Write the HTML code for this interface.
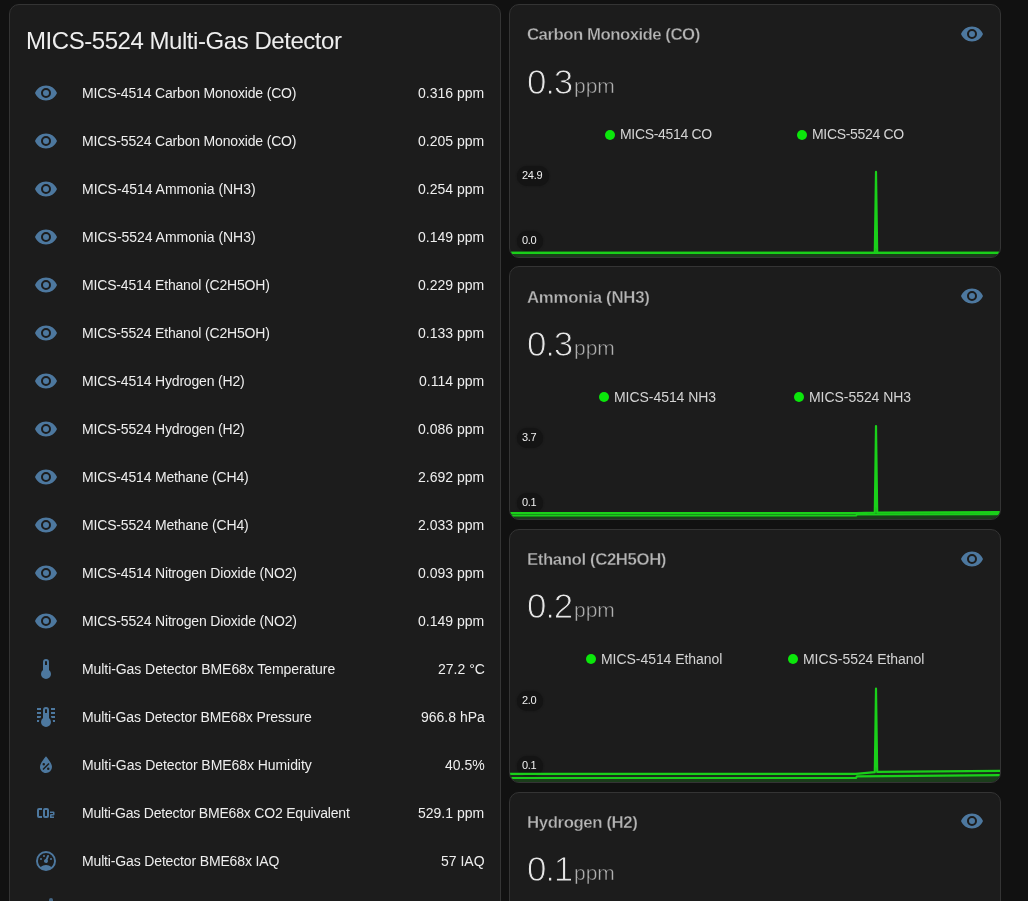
<!DOCTYPE html><html><head><meta charset='utf-8'><style>
*{box-sizing:border-box;margin:0;padding:0}
html,body{width:1028px;height:901px;overflow:hidden;background:#111111;font-family:"Liberation Sans",sans-serif;color:#eeeeee}
.card{position:absolute;background:#1c1c1c;border:1px solid #343434;border-radius:10px;overflow:hidden}
.t{position:absolute;white-space:nowrap;line-height:1;will-change:transform;-webkit-text-stroke:0px #1c1c1c}
svg.i{position:absolute;width:24px;height:24px;fill:#4d789f}
.dot{position:absolute;width:10px;height:10px;border-radius:50%;background:#0be60b}
.pill{position:absolute;height:20px;border-radius:10px;background:#141414;box-shadow:0 0 2px #141414}
</style></head><body>
<div class='card' style='left:9px;top:4px;width:492px;height:1000px'>
<div class='t' style='left:16.00px;top:23.68px;font-size:24px;letter-spacing:-0.45px;-webkit-text-stroke:0px #1c1c1c'>MICS-5524 Multi-Gas Detector</div>
<svg class='i' viewBox='0 0 24 24' style='left:24px;top:75.5px'><path d='M12,9A3,3 0 0,0 9,12A3,3 0 0,0 12,15A3,3 0 0,0 15,12A3,3 0 0,0 12,9M12,17A5,5 0 0,1 7,12A5,5 0 0,1 12,7A5,5 0 0,1 17,12A5,5 0 0,1 12,17M12,4.5C7,4.5 2.73,7.61 1,12C2.73,16.39 7,19.5 12,19.5C17,19.5 21.27,16.39 23,12C21.27,7.61 17,4.5 12,4.5Z'/></svg>
<div class='t' style='left:72.00px;top:80.95px;font-size:14px;letter-spacing:-0.17px'>MICS-4514 Carbon Monoxide (CO)</div>
<div class='t' style='right:15.50px;top:80.95px;font-size:14px;'>0.316 ppm</div>
<svg class='i' viewBox='0 0 24 24' style='left:24px;top:123.5px'><path d='M12,9A3,3 0 0,0 9,12A3,3 0 0,0 12,15A3,3 0 0,0 15,12A3,3 0 0,0 12,9M12,17A5,5 0 0,1 7,12A5,5 0 0,1 12,7A5,5 0 0,1 17,12A5,5 0 0,1 12,17M12,4.5C7,4.5 2.73,7.61 1,12C2.73,16.39 7,19.5 12,19.5C17,19.5 21.27,16.39 23,12C21.27,7.61 17,4.5 12,4.5Z'/></svg>
<div class='t' style='left:72.00px;top:128.95px;font-size:14px;letter-spacing:-0.17px'>MICS-5524 Carbon Monoxide (CO)</div>
<div class='t' style='right:15.50px;top:128.95px;font-size:14px;'>0.205 ppm</div>
<svg class='i' viewBox='0 0 24 24' style='left:24px;top:171.5px'><path d='M12,9A3,3 0 0,0 9,12A3,3 0 0,0 12,15A3,3 0 0,0 15,12A3,3 0 0,0 12,9M12,17A5,5 0 0,1 7,12A5,5 0 0,1 12,7A5,5 0 0,1 17,12A5,5 0 0,1 12,17M12,4.5C7,4.5 2.73,7.61 1,12C2.73,16.39 7,19.5 12,19.5C17,19.5 21.27,16.39 23,12C21.27,7.61 17,4.5 12,4.5Z'/></svg>
<div class='t' style='left:72.00px;top:176.95px;font-size:14px;letter-spacing:-0.03px'>MICS-4514 Ammonia (NH3)</div>
<div class='t' style='right:15.50px;top:176.95px;font-size:14px;'>0.254 ppm</div>
<svg class='i' viewBox='0 0 24 24' style='left:24px;top:219.5px'><path d='M12,9A3,3 0 0,0 9,12A3,3 0 0,0 12,15A3,3 0 0,0 15,12A3,3 0 0,0 12,9M12,17A5,5 0 0,1 7,12A5,5 0 0,1 12,7A5,5 0 0,1 17,12A5,5 0 0,1 12,17M12,4.5C7,4.5 2.73,7.61 1,12C2.73,16.39 7,19.5 12,19.5C17,19.5 21.27,16.39 23,12C21.27,7.61 17,4.5 12,4.5Z'/></svg>
<div class='t' style='left:72.00px;top:224.95px;font-size:14px;letter-spacing:-0.03px'>MICS-5524 Ammonia (NH3)</div>
<div class='t' style='right:15.50px;top:224.95px;font-size:14px;'>0.149 ppm</div>
<svg class='i' viewBox='0 0 24 24' style='left:24px;top:267.5px'><path d='M12,9A3,3 0 0,0 9,12A3,3 0 0,0 12,15A3,3 0 0,0 15,12A3,3 0 0,0 12,9M12,17A5,5 0 0,1 7,12A5,5 0 0,1 12,7A5,5 0 0,1 17,12A5,5 0 0,1 12,17M12,4.5C7,4.5 2.73,7.61 1,12C2.73,16.39 7,19.5 12,19.5C17,19.5 21.27,16.39 23,12C21.27,7.61 17,4.5 12,4.5Z'/></svg>
<div class='t' style='left:72.00px;top:272.95px;font-size:14px;letter-spacing:-0.17px'>MICS-4514 Ethanol (C2H5OH)</div>
<div class='t' style='right:15.50px;top:272.95px;font-size:14px;'>0.229 ppm</div>
<svg class='i' viewBox='0 0 24 24' style='left:24px;top:315.5px'><path d='M12,9A3,3 0 0,0 9,12A3,3 0 0,0 12,15A3,3 0 0,0 15,12A3,3 0 0,0 12,9M12,17A5,5 0 0,1 7,12A5,5 0 0,1 12,7A5,5 0 0,1 17,12A5,5 0 0,1 12,17M12,4.5C7,4.5 2.73,7.61 1,12C2.73,16.39 7,19.5 12,19.5C17,19.5 21.27,16.39 23,12C21.27,7.61 17,4.5 12,4.5Z'/></svg>
<div class='t' style='left:72.00px;top:320.95px;font-size:14px;letter-spacing:-0.17px'>MICS-5524 Ethanol (C2H5OH)</div>
<div class='t' style='right:15.50px;top:320.95px;font-size:14px;'>0.133 ppm</div>
<svg class='i' viewBox='0 0 24 24' style='left:24px;top:363.5px'><path d='M12,9A3,3 0 0,0 9,12A3,3 0 0,0 12,15A3,3 0 0,0 15,12A3,3 0 0,0 12,9M12,17A5,5 0 0,1 7,12A5,5 0 0,1 12,7A5,5 0 0,1 17,12A5,5 0 0,1 12,17M12,4.5C7,4.5 2.73,7.61 1,12C2.73,16.39 7,19.5 12,19.5C17,19.5 21.27,16.39 23,12C21.27,7.61 17,4.5 12,4.5Z'/></svg>
<div class='t' style='left:72.00px;top:368.95px;font-size:14px;letter-spacing:-0.17px'>MICS-4514 Hydrogen (H2)</div>
<div class='t' style='right:15.50px;top:368.95px;font-size:14px;'>0.114 ppm</div>
<svg class='i' viewBox='0 0 24 24' style='left:24px;top:411.5px'><path d='M12,9A3,3 0 0,0 9,12A3,3 0 0,0 12,15A3,3 0 0,0 15,12A3,3 0 0,0 12,9M12,17A5,5 0 0,1 7,12A5,5 0 0,1 12,7A5,5 0 0,1 17,12A5,5 0 0,1 12,17M12,4.5C7,4.5 2.73,7.61 1,12C2.73,16.39 7,19.5 12,19.5C17,19.5 21.27,16.39 23,12C21.27,7.61 17,4.5 12,4.5Z'/></svg>
<div class='t' style='left:72.00px;top:416.95px;font-size:14px;letter-spacing:-0.17px'>MICS-5524 Hydrogen (H2)</div>
<div class='t' style='right:15.50px;top:416.95px;font-size:14px;'>0.086 ppm</div>
<svg class='i' viewBox='0 0 24 24' style='left:24px;top:459.5px'><path d='M12,9A3,3 0 0,0 9,12A3,3 0 0,0 12,15A3,3 0 0,0 15,12A3,3 0 0,0 12,9M12,17A5,5 0 0,1 7,12A5,5 0 0,1 12,7A5,5 0 0,1 17,12A5,5 0 0,1 12,17M12,4.5C7,4.5 2.73,7.61 1,12C2.73,16.39 7,19.5 12,19.5C17,19.5 21.27,16.39 23,12C21.27,7.61 17,4.5 12,4.5Z'/></svg>
<div class='t' style='left:72.00px;top:464.95px;font-size:14px;letter-spacing:-0.17px'>MICS-4514 Methane (CH4)</div>
<div class='t' style='right:15.50px;top:464.95px;font-size:14px;'>2.692 ppm</div>
<svg class='i' viewBox='0 0 24 24' style='left:24px;top:507.5px'><path d='M12,9A3,3 0 0,0 9,12A3,3 0 0,0 12,15A3,3 0 0,0 15,12A3,3 0 0,0 12,9M12,17A5,5 0 0,1 7,12A5,5 0 0,1 12,7A5,5 0 0,1 17,12A5,5 0 0,1 12,17M12,4.5C7,4.5 2.73,7.61 1,12C2.73,16.39 7,19.5 12,19.5C17,19.5 21.27,16.39 23,12C21.27,7.61 17,4.5 12,4.5Z'/></svg>
<div class='t' style='left:72.00px;top:512.95px;font-size:14px;letter-spacing:-0.17px'>MICS-5524 Methane (CH4)</div>
<div class='t' style='right:15.50px;top:512.95px;font-size:14px;'>2.033 ppm</div>
<svg class='i' viewBox='0 0 24 24' style='left:24px;top:555.5px'><path d='M12,9A3,3 0 0,0 9,12A3,3 0 0,0 12,15A3,3 0 0,0 15,12A3,3 0 0,0 12,9M12,17A5,5 0 0,1 7,12A5,5 0 0,1 12,7A5,5 0 0,1 17,12A5,5 0 0,1 12,17M12,4.5C7,4.5 2.73,7.61 1,12C2.73,16.39 7,19.5 12,19.5C17,19.5 21.27,16.39 23,12C21.27,7.61 17,4.5 12,4.5Z'/></svg>
<div class='t' style='left:72.00px;top:560.95px;font-size:14px;letter-spacing:-0.17px'>MICS-4514 Nitrogen Dioxide (NO2)</div>
<div class='t' style='right:15.50px;top:560.95px;font-size:14px;'>0.093 ppm</div>
<svg class='i' viewBox='0 0 24 24' style='left:24px;top:603.5px'><path d='M12,9A3,3 0 0,0 9,12A3,3 0 0,0 12,15A3,3 0 0,0 15,12A3,3 0 0,0 12,9M12,17A5,5 0 0,1 7,12A5,5 0 0,1 12,7A5,5 0 0,1 17,12A5,5 0 0,1 12,17M12,4.5C7,4.5 2.73,7.61 1,12C2.73,16.39 7,19.5 12,19.5C17,19.5 21.27,16.39 23,12C21.27,7.61 17,4.5 12,4.5Z'/></svg>
<div class='t' style='left:72.00px;top:608.95px;font-size:14px;letter-spacing:-0.17px'>MICS-5524 Nitrogen Dioxide (NO2)</div>
<div class='t' style='right:15.50px;top:608.95px;font-size:14px;'>0.149 ppm</div>
<svg class='i' viewBox='0 0 24 24' style='left:24px;top:651.5px'><path d='M15,13V5A3,3 0 0,0 12,2A3,3 0 0,0 9,5V13A5,5 0 0,0 7,17A5,5 0 0,0 12,22A5,5 0 0,0 17,17A5,5 0 0,0 15,13M12,4A1,1 0 0,1 13,5V8H11V5A1,1 0 0,1 12,4Z'/></svg>
<div class='t' style='left:72.00px;top:656.95px;font-size:14px;letter-spacing:-0.07px'>Multi-Gas Detector BME68x Temperature</div>
<div class='t' style='right:15.50px;top:656.95px;font-size:14px;'>27.2 °C</div>
<svg class='i' viewBox='0 0 24 24' style='left:24px;top:699.5px'><path d='M17,3H21V5H17V3M17,7H21V9H17V7M17,11H21V13H17.75L17,12.1V11M21,15V17H19C19,16.31 18.9,15.63 18.71,15H21M7,3V5H3V3H7M7,7V9H3V7H7M7,11V12.1L6.25,13H3V11H7M3,15H5.29C5.1,15.63 5,16.31 5,17H3V15M15,13V5A3,3 0 0,0 12,2A3,3 0 0,0 9,5V13A5,5 0 0,0 7,17A5,5 0 0,0 12,22A5,5 0 0,0 17,17A5,5 0 0,0 15,13M12,4A1,1 0 0,1 13,5V8H11V5A1,1 0 0,1 12,4Z'/></svg>
<div class='t' style='left:72.00px;top:704.95px;font-size:14px;letter-spacing:-0.11px'>Multi-Gas Detector BME68x Pressure</div>
<div class='t' style='right:15.50px;top:704.95px;font-size:14px;'>966.8 hPa</div>
<svg class='i' viewBox='0 0 24 24' style='left:24px;top:747.5px'><path d='M12,3.25C12,3.25 6,10 6,14C6,17.32 8.69,20 12,20A6,6 0 0,0 18,14C18,10 12,3.25 12,3.25M14.47,9.97L15.53,11.03L9.53,17.03L8.47,15.97M9.75,10A1.25,1.25 0 0,1 11,11.25A1.25,1.25 0 0,1 9.75,12.5A1.25,1.25 0 0,1 8.5,11.25A1.25,1.25 0 0,1 9.75,10M14.25,14.5A1.25,1.25 0 0,1 15.5,15.75A1.25,1.25 0 0,1 14.25,17A1.25,1.25 0 0,1 13,15.75A1.25,1.25 0 0,1 14.25,14.5Z'/></svg>
<div class='t' style='left:72.00px;top:752.95px;font-size:14px;letter-spacing:-0.064px'>Multi-Gas Detector BME68x Humidity</div>
<div class='t' style='right:15.50px;top:752.95px;font-size:14px;'>40.5%</div>
<svg class='i' viewBox='0 0 24 24' style='left:24px;top:795.5px'><path d='M5,7A2,2 0 0,0 3,9V15A2,2 0 0,0 5,17H8V15H5V9H8V7H5M11,7A2,2 0 0,0 9,9V15A2,2 0 0,0 11,17H13A2,2 0 0,0 15,15V9A2,2 0 0,0 13,7H11M11,9H13V15H11V9M16,10.5V12H19V13H17A1,1 0 0,0 16,14V17H20V15.5H17.5V14.5H19.5A1,1 0 0,0 20.5,13.5V11.5A1,1 0 0,0 19.5,10.5H16Z'/></svg>
<div class='t' style='left:72.00px;top:800.95px;font-size:14px;letter-spacing:-0.196px'>Multi-Gas Detector BME68x CO2 Equivalent</div>
<div class='t' style='right:15.50px;top:800.95px;font-size:14px;'>529.1 ppm</div>
<svg class='i' viewBox='0 0 24 24' style='left:24px;top:843.5px'><path d='M12,2A10,10 0 0,0 2,12A10,10 0 0,0 12,22A10,10 0 0,0 22,12A10,10 0 0,0 12,2M12,4A8,8 0 0,1 20,12C20,14.4 19,16.5 17.3,18C15.9,16.7 14,16 12,16C10,16 8.2,16.7 6.7,18C5,16.5 4,14.4 4,12A8,8 0 0,1 12,4M14,5.89C13.62,5.9 13.26,6.15 13.1,6.54L11.81,9.77L11.71,10C11,10.13 10.41,10.6 10.14,11.26C9.73,12.290 10.23,13.45 11.26,13.86C12.29,14.27 13.45,13.77 13.86,12.74C14.12,12.08 14,11.32 13.57,10.76L13.67,10.5L14.96,7.29L14.97,7.26C15.17,6.75 14.92,6.17 14.41,5.96C14.28,5.91 14.15,5.89 14,5.89M10,6A1,1 0 0,0 9,7A1,1 0 0,0 10,8A1,1 0 0,0 11,7A1,1 0 0,0 10,6M7,9A1,1 0 0,0 6,10A1,1 0 0,0 7,11A1,1 0 0,0 8,10A1,1 0 0,0 7,9M17,9A1,1 0 0,0 16,10A1,1 0 0,0 17,11A1,1 0 0,0 18,10A1,1 0 0,0 17,9Z'/></svg>
<div class='t' style='left:72.00px;top:848.95px;font-size:14px;letter-spacing:-0.15px'>Multi-Gas Detector BME68x IAQ</div>
<div class='t' style='right:15.50px;top:848.95px;font-size:14px;'>57 IAQ</div>
<div style='position:absolute;left:39px;top:892.5px;width:4px;height:6px;border-radius:2px 2px 0 0;background:#4d789f;opacity:.8'></div>
</div>
<div class='card' style='left:509px;top:4px;width:492px;height:254px'>
<div class='t' style='left:17.00px;top:21.78px;font-size:16.8px;font-weight:700;color:#b4b4b4;letter-spacing:-0.5px;-webkit-text-stroke:0.3px #1c1c1c'>Carbon Monoxide (CO)</div>
<svg class='i' viewBox='0 0 24 24' style='left:450px;top:16.7px'><path d='M12,9A3,3 0 0,0 9,12A3,3 0 0,0 12,15A3,3 0 0,0 15,12A3,3 0 0,0 12,9M12,17A5,5 0 0,1 7,12A5,5 0 0,1 12,7A5,5 0 0,1 17,12A5,5 0 0,1 12,17M12,4.5C7,4.5 2.73,7.61 1,12C2.73,16.39 7,19.5 12,19.5C17,19.5 21.27,16.39 23,12C21.27,7.61 17,4.5 12,4.5Z'/></svg>
<div class='t' style='left:16.50px;top:58.97px;font-size:35px;color:#e6e6e6;letter-spacing:-1.2px;-webkit-text-stroke:1.0px #1c1c1c'>0.3</div>
<div class='t' style='left:63.80px;top:69.82px;font-size:21px;color:#b0b0b0;-webkit-text-stroke:0.5px #1c1c1c'>ppm</div>
<div class='dot' style='left:95px;top:125px'></div>
<div class='t' style='left:110.30px;top:122.15px;font-size:14px;color:#d4d4d4;letter-spacing:-0.33px'>MICS-4514 CO</div>
<div class='dot' style='left:287px;top:125px'></div>
<div class='t' style='left:302.30px;top:122.15px;font-size:14px;color:#d4d4d4;letter-spacing:-0.33px'>MICS-5524 CO</div>
<div class='pill' style='left:7px;top:161px;width:32px'></div>
<div class='t' style='left:12.00px;top:164.69px;font-size:11px;color:#f0f0f0;letter-spacing:-0.3px'>24.9</div>
<div class='pill' style='left:7px;top:226px;width:26px'></div>
<div class='t' style='left:12.00px;top:229.69px;font-size:11px;color:#f0f0f0;letter-spacing:-0.3px'>0.0</div>
<svg style='position:absolute;left:-1px;top:-1px' width='492' height='254' viewBox='0 0 492 254'><path d='M-5,248.9 L365.8,248.9 L367,167.9 L368.2,248.9 L500,248.9 L500,254 L-5,254 Z' fill='#1ad01a' fill-opacity='0.1' stroke='none'/><path d='M-5,248.9 L500,248.9 L500,254 L-5,254 Z' fill='#1ad01a' fill-opacity='0.1' stroke='none'/><path d='M-5,248.9 L365.8,248.9 L367,167.9 L368.2,248.9 L500,248.9' fill='none' stroke='#1ad01a' stroke-width='2.2' stroke-linejoin='round' stroke-linecap='round'/><path d='M-5,248.9 L500,248.9' fill='none' stroke='#1ad01a' stroke-width='2.2' stroke-linejoin='round' stroke-linecap='round'/></svg>
</div>
<div class='card' style='left:509px;top:266px;width:492px;height:254px'>
<div class='t' style='left:17.00px;top:22.78px;font-size:16.8px;font-weight:700;color:#b4b4b4;letter-spacing:-0.25px;-webkit-text-stroke:0.3px #1c1c1c'>Ammonia (NH3)</div>
<svg class='i' viewBox='0 0 24 24' style='left:450px;top:16.69999999999999px'><path d='M12,9A3,3 0 0,0 9,12A3,3 0 0,0 12,15A3,3 0 0,0 15,12A3,3 0 0,0 12,9M12,17A5,5 0 0,1 7,12A5,5 0 0,1 12,7A5,5 0 0,1 17,12A5,5 0 0,1 12,17M12,4.5C7,4.5 2.73,7.61 1,12C2.73,16.39 7,19.5 12,19.5C17,19.5 21.27,16.39 23,12C21.27,7.61 17,4.5 12,4.5Z'/></svg>
<div class='t' style='left:16.50px;top:58.97px;font-size:35px;color:#e6e6e6;letter-spacing:-1.2px;-webkit-text-stroke:1.0px #1c1c1c'>0.3</div>
<div class='t' style='left:63.80px;top:69.82px;font-size:21px;color:#b0b0b0;-webkit-text-stroke:0.5px #1c1c1c'>ppm</div>
<div class='dot' style='left:89px;top:125px'></div>
<div class='t' style='left:104.30px;top:123.15px;font-size:14px;color:#d4d4d4;letter-spacing:-0.05px'>MICS-4514 NH3</div>
<div class='dot' style='left:284px;top:125px'></div>
<div class='t' style='left:299.30px;top:123.15px;font-size:14px;color:#d4d4d4;letter-spacing:-0.05px'>MICS-5524 NH3</div>
<div class='pill' style='left:7px;top:161px;width:26px'></div>
<div class='t' style='left:12.00px;top:164.69px;font-size:11px;color:#f0f0f0;letter-spacing:-0.3px'>3.7</div>
<div class='pill' style='left:7px;top:226px;width:26px'></div>
<div class='t' style='left:12.00px;top:229.69px;font-size:11px;color:#f0f0f0;letter-spacing:-0.3px'>0.1</div>
<svg style='position:absolute;left:-1px;top:-1px' width='492' height='254' viewBox='0 0 492 254'><path d='M-5,247.2 L347,247.2 L365.8,246.7 L367,160 L368.2,246.7 L500,246 L500,254 L-5,254 Z' fill='#1ad01a' fill-opacity='0.1' stroke='none'/><path d='M-5,249.5 L347,249.5 L348,248.5 L500,248 L500,254 L-5,254 Z' fill='#1ad01a' fill-opacity='0.1' stroke='none'/><path d='M-5,247.2 L347,247.2 L365.8,246.7 L367,160 L368.2,246.7 L500,246' fill='none' stroke='#1ad01a' stroke-width='2.2' stroke-linejoin='round' stroke-linecap='round'/><path d='M-5,249.5 L347,249.5 L348,248.5 L500,248' fill='none' stroke='#1ad01a' stroke-width='2.2' stroke-linejoin='round' stroke-linecap='round'/></svg>
</div>
<div class='card' style='left:509px;top:529px;width:492px;height:254px'>
<div class='t' style='left:17.00px;top:21.78px;font-size:16.8px;font-weight:700;color:#b4b4b4;letter-spacing:-0.4px;-webkit-text-stroke:0.3px #1c1c1c'>Ethanol (C2H5OH)</div>
<svg class='i' viewBox='0 0 24 24' style='left:450px;top:16.700000000000045px'><path d='M12,9A3,3 0 0,0 9,12A3,3 0 0,0 12,15A3,3 0 0,0 15,12A3,3 0 0,0 12,9M12,17A5,5 0 0,1 7,12A5,5 0 0,1 12,7A5,5 0 0,1 17,12A5,5 0 0,1 12,17M12,4.5C7,4.5 2.73,7.61 1,12C2.73,16.39 7,19.5 12,19.5C17,19.5 21.27,16.39 23,12C21.27,7.61 17,4.5 12,4.5Z'/></svg>
<div class='t' style='left:16.50px;top:57.97px;font-size:35px;color:#e6e6e6;letter-spacing:-1.2px;-webkit-text-stroke:1.0px #1c1c1c'>0.2</div>
<div class='t' style='left:63.80px;top:68.82px;font-size:21px;color:#b0b0b0;-webkit-text-stroke:0.5px #1c1c1c'>ppm</div>
<div class='dot' style='left:76px;top:124px'></div>
<div class='t' style='left:91.30px;top:122.15px;font-size:14px;color:#d4d4d4;letter-spacing:-0.05px'>MICS-4514 Ethanol</div>
<div class='dot' style='left:277.5px;top:124px'></div>
<div class='t' style='left:292.80px;top:122.15px;font-size:14px;color:#d4d4d4;letter-spacing:-0.05px'>MICS-5524 Ethanol</div>
<div class='pill' style='left:7px;top:161px;width:26px'></div>
<div class='t' style='left:12.00px;top:164.69px;font-size:11px;color:#f0f0f0;letter-spacing:-0.3px'>2.0</div>
<div class='pill' style='left:7px;top:226px;width:26px'></div>
<div class='t' style='left:12.00px;top:229.69px;font-size:11px;color:#f0f0f0;letter-spacing:-0.3px'>0.1</div>
<svg style='position:absolute;left:-1px;top:-1px' width='492' height='254' viewBox='0 0 492 254'><path d='M-5,244.9 L347,244.9 L365.8,243.2 L367,159.7 L368.2,242.9 L500,241.7 L500,254 L-5,254 Z' fill='#1ad01a' fill-opacity='0.1' stroke='none'/><path d='M-5,249 L347,249 L348,247.3 L500,246 L500,254 L-5,254 Z' fill='#1ad01a' fill-opacity='0.1' stroke='none'/><path d='M-5,244.9 L347,244.9 L365.8,243.2 L367,159.7 L368.2,242.9 L500,241.7' fill='none' stroke='#1ad01a' stroke-width='2.2' stroke-linejoin='round' stroke-linecap='round'/><path d='M-5,249 L347,249 L348,247.3 L500,246' fill='none' stroke='#1ad01a' stroke-width='2.2' stroke-linejoin='round' stroke-linecap='round'/></svg>
</div>
<div class='card' style='left:509px;top:791.5px;width:492px;height:254px'>
<div class='t' style='left:17.00px;top:22.78px;font-size:16.8px;font-weight:700;color:#b4b4b4;letter-spacing:-0.4px;-webkit-text-stroke:0.3px #1c1c1c'>Hydrogen (H2)</div>
<svg class='i' viewBox='0 0 24 24' style='left:450px;top:16.700000000000045px'><path d='M12,9A3,3 0 0,0 9,12A3,3 0 0,0 12,15A3,3 0 0,0 15,12A3,3 0 0,0 12,9M12,17A5,5 0 0,1 7,12A5,5 0 0,1 12,7A5,5 0 0,1 17,12A5,5 0 0,1 12,17M12,4.5C7,4.5 2.73,7.61 1,12C2.73,16.39 7,19.5 12,19.5C17,19.5 21.27,16.39 23,12C21.27,7.61 17,4.5 12,4.5Z'/></svg>
<div class='t' style='left:16.50px;top:58.97px;font-size:35px;color:#e6e6e6;letter-spacing:-1.2px;-webkit-text-stroke:1.0px #1c1c1c'>0.1</div>
<div class='t' style='left:63.80px;top:69.82px;font-size:21px;color:#b0b0b0;-webkit-text-stroke:0.5px #1c1c1c'>ppm</div>
</div>
</body></html>
